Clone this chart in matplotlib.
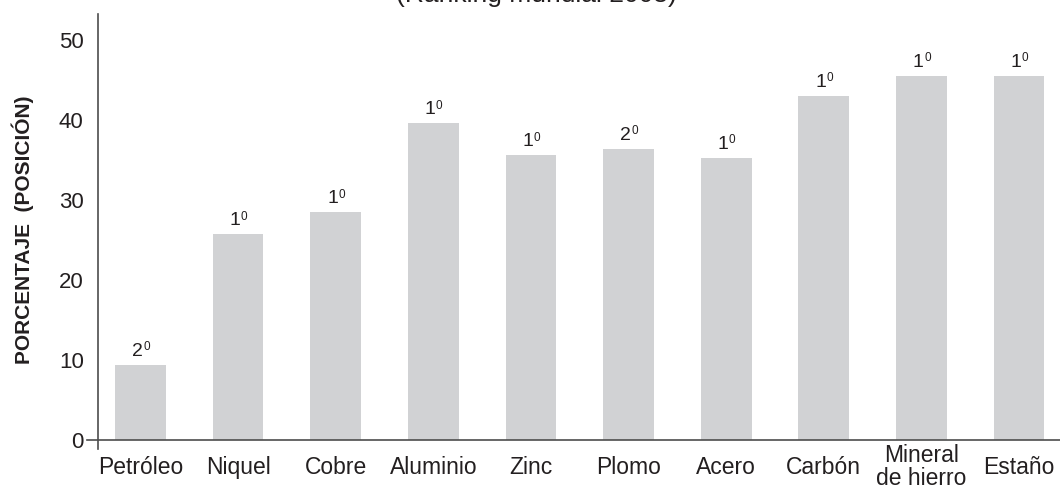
import matplotlib
matplotlib.use("Agg")
import matplotlib.pyplot as plt

minerales = ["Petróleo", "Niquel", "Cobre", "Aluminio", "Zinc", "Plomo",
             "Acero", "Carbón", "Mineral\nde hierro", "Estaño"]
porcentajes = [9.4, 25.7, 28.5, 39.6, 35.6, 36.4, 35.3, 43.0, 45.5, 45.5]
posiciones = ["2", "1", "1", "1", "1", "2", "1", "1", "1", "1"]
yticks = [0, 10, 20, 30, 40, 50]

TXT = "#231f20"
plt.rcParams["font.family"] = ["Liberation Sans", "DejaVu Sans"]

fig = plt.figure(figsize=(10.6, 4.95), dpi=100)
ax = fig.add_axes([0.092, 0.093, 0.908, 0.879])

x = list(range(len(minerales)))
ax.bar(x, porcentajes, width=0.52, color="#d1d2d4", zorder=2)

# posición en el ranking: número + "0" volado
for xi, v, p in zip(x, porcentajes, posiciones):
    ax.annotate(p, (xi, v), xytext=(-2.3, 6.5), textcoords="offset points",
                ha="center", va="baseline", fontsize=14, color=TXT)
    ax.annotate("0", (xi, v), xytext=(4.3, 10.4), textcoords="offset points",
                ha="center", va="baseline", fontsize=8.5, color=TXT)

ax.set_xlim(-0.44, 9.42)
ax.set_ylim(-1.1, 53.25)
ax.set_xticks(x)
ax.set_xticklabels(minerales, fontsize=16.5, color=TXT, linespacing=0.95)
for lab in ax.get_xticklabels():
    lab.set_va("center")
ax.tick_params(axis="x", length=0, pad=13)
ax.set_yticks(yticks)
ax.set_yticklabels([str(t) for t in yticks], fontsize=16, color=TXT)
ax.tick_params(axis="y", length=0, pad=10)

for s in ["top", "right", "bottom"]:
    ax.spines[s].set_visible(False)
ax.spines["left"].set_color("#4d4d4d")
ax.spines["left"].set_linewidth(1.2)
ax.plot([-0.55, 9.42], [0, 0], color="#4d4d4d", lw=1.2, clip_on=False, zorder=3)

fig.text(0.021, 0.535, "PORCENTAJE  (POSICIÓN)", rotation=90, ha="center", va="center",
         fontsize=15, fontweight="bold", color=TXT)
fig.text(0.506, 0.996, "(Ranking mundial 2008)", ha="center", va="baseline",
         fontsize=19, color=TXT)

fig.savefig("out.png", dpi=100)
